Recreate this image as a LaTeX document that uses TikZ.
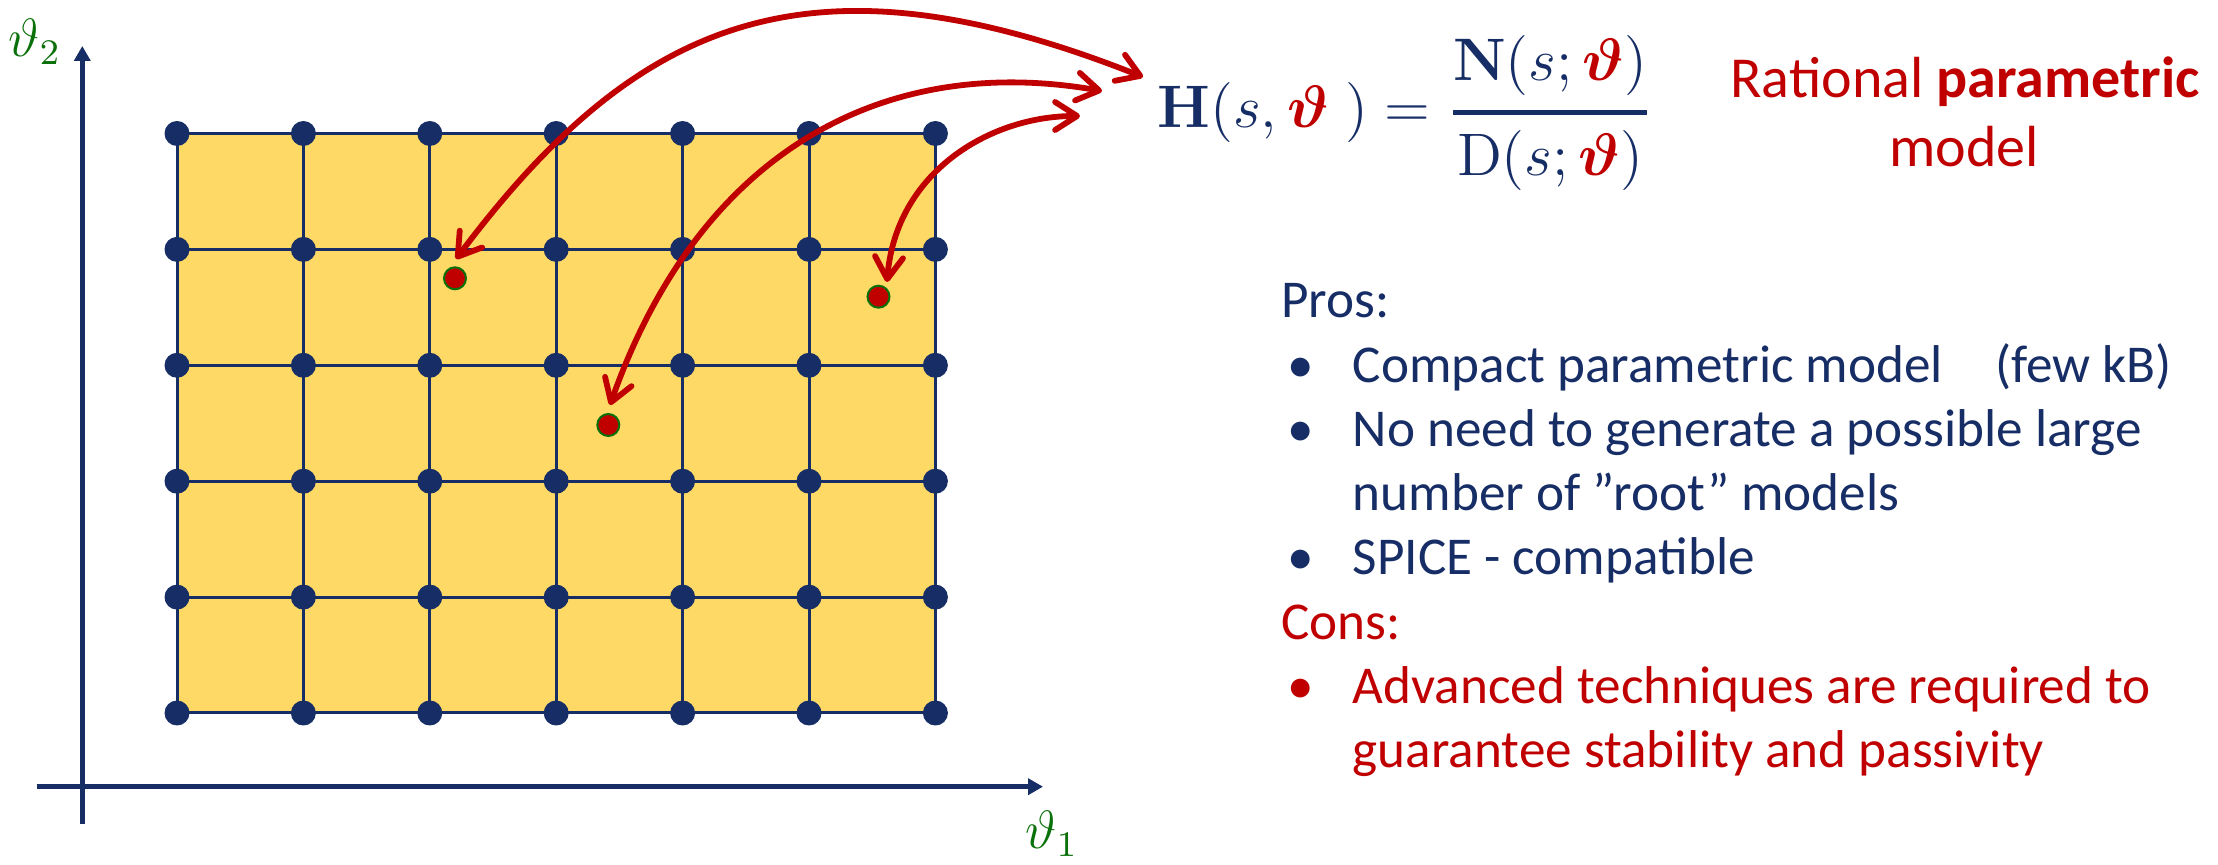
\documentclass[tikz,border=0pt]{standalone}
\usepackage{amsmath}
\usepackage{graphicx}
\usepackage[no-math]{fontspec}
\setmainfont{Carlito}
\usepackage{bm}
\usetikzlibrary{arrows.meta}
\definecolor{navy}{HTML}{162D66}
\definecolor{darkred}{HTML}{C00000}
\definecolor{axgreen}{HTML}{0A700A}
\definecolor{cellfill}{HTML}{FFD966}
\begin{document}
\begin{tikzpicture}[x=0.5pt,y=-0.5pt,
  navydot/.style={circle, fill=navy, inner sep=0pt, minimum size=12.5pt},
  reddot/.style={circle, fill=darkred, draw=axgreen, line width=1pt, inner sep=0pt, minimum size=11pt},
  gridline/.style={navy, line width=1.5pt},
  axis/.style={navy, line width=2.2pt, -{Triangle[length=7.5pt,width=8pt]}},
  link/.style={darkred, line width=2.9pt,
    {Straight Barb[length=11pt,width=14pt,round]}-{Straight Barb[length=11pt,width=14pt,round]}},
  axlabel/.style={text=axgreen, inner sep=0pt, font=\fontsize{12}{14}\selectfont},
  txt/.style={text=navy, anchor=base west, inner sep=0pt, font=\fontsize{26.6}{31}\selectfont},
  redtxt/.style={txt, text=darkred},
  title/.style={text=darkred, anchor=base, inner sep=0pt, font=\fontsize{29}{34}\selectfont}
]
\useasboundingbox (0,0) rectangle (2218,865);

% grid coordinates
\foreach \i in {0,...,6}
  \foreach \j in {0,...,5}
    \coordinate (c-\i-\j) at ({177+126.4*\i},{133.5+115.9*\j});
\fill[cellfill] (c-0-0) rectangle (c-6-5);
\foreach \j in {0,...,5} \draw[gridline] (c-0-\j) -- (c-6-\j);
\foreach \i in {0,...,6} \draw[gridline] (c-\i-0) -- (c-\i-5);
\foreach \i in {0,...,6}
  \foreach \j in {0,...,5}
    \node[navydot] (g-\i-\j) at (c-\i-\j) {};

% axes
\coordinate (vbot) at (82.3,824);
\coordinate (vtop) at (82.3,46);
\coordinate (hleft) at (36.7,786.7);
\coordinate (hright) at (1043,786.7);
\draw[axis] (vbot) -- (vtop);
\draw[axis] (hleft) -- (hright);
\node[axlabel] (t2) at (35,42) {\scalebox{2.25}{$\vartheta_2$}};
\node[axlabel] (t1) at (1052,834) {\scalebox{2.25}{$\vartheta_1$}};

% red sample points
\node[reddot] (r1) at (455,278.3) {};
\node[reddot] (r2) at (608.3,425) {};
\node[reddot] (r3) at (878.5,296.7) {};

% formula
\node[anchor=base west, inner sep=0pt, text=navy, font=\fontsize{12}{14}\selectfont] (H) at (1157,128)
  {\scalebox{2.5}{$\mathbf{H}(s,\textcolor{darkred}{\bm{\vartheta}}\;) = \genfrac{}{}{1pt}{0}{\mathbf{N}(s;\textcolor{darkred}{\bm{\vartheta}})}{\mathrm{D}(s;\textcolor{darkred}{\bm{\vartheta}})}$}};

% arrows
\coordinate (h1) at (1143,77);
\coordinate (p1) at (456,259);
\coordinate (h2) at (1102,91);
\coordinate (p2) at (610,405);
\coordinate (h3) at (1080,116);
\coordinate (p3) at (887,282);
\draw[link] (h1) .. controls (808,-56) and (636,19) .. (p1);
\draw[link] (h2) .. controls (885,53) and (700,150) .. (p2);
\draw[link] (h3) .. controls (990,116) and (896,172) .. (p3);

% title
\node[title] (ti1) at (1965,98) {Rational \textbf{parametric}};
\node[title] (ti2) at (1964,167) {model};

% pros / cons
\node[txt] (pros) at (1281,318) {Pros:};
\node[txt] (b1) at (1287,383) {•};
\node[txt] (l1) at (1352.5,383) {Compact parametric model};
\node[txt] (l1b) at (1995,383) {(few kB)};
\node[txt] (b2) at (1287,446.5) {•};
\node[txt] (l2) at (1352.5,446.5) {No need to generate a possible large};
\node[txt] (l3) at (1352.5,511) {number of ”root” models};
\node[txt] (b3) at (1287,574.5) {•};
\node[txt] (l4) at (1352.5,574.5) {SPICE - compatible};
\node[redtxt] (cons) at (1281,639.5) {Cons:};
\node[redtxt] (b4) at (1287,704) {•};
\node[redtxt] (l5) at (1352.5,704) {Advanced techniques are required to};
\node[redtxt] (l6) at (1352.5,767.5) {guarantee stability and passivity};
\end{tikzpicture}
\end{document}
